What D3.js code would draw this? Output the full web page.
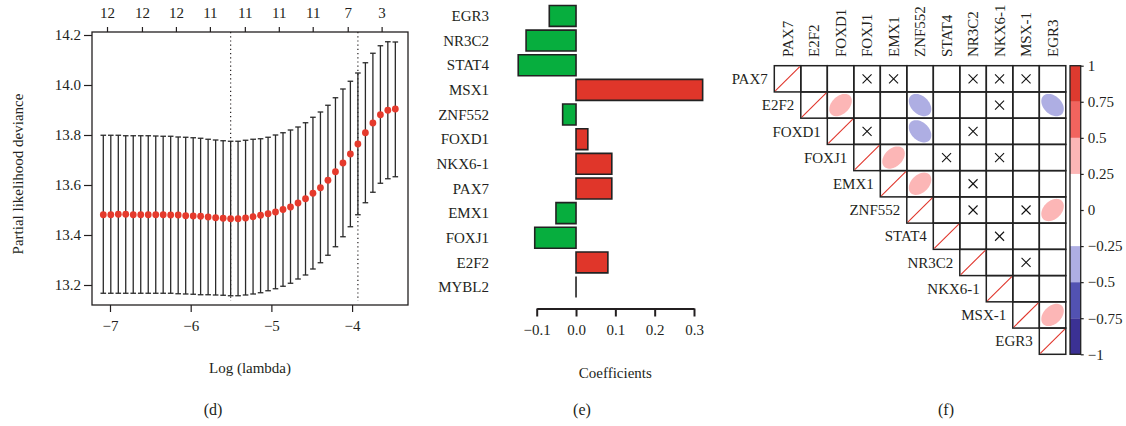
<!DOCTYPE html>
<html>
<head>
<meta charset="utf-8">
<script src="https://cdn.jsdelivr.net/npm/d3@7"></script>
<style>
  body { margin: 0; background: #fff; }
  svg { display: block; }
  text { font-family: "Liberation Serif", "Times New Roman", serif; fill: #231f20; font-size: 15px; }
</style>
</head>
<body>
<svg id="chart" width="1126" height="426"></svg>
<script>
// ---------- (d) cross-validated partial likelihood deviance ----------
const logLambda = [-7.083, -6.990, -6.897, -6.805, -6.712, -6.619, -6.526, -6.433, -6.341, -6.248,
                   -6.155, -6.062, -5.969, -5.877, -5.784, -5.691, -5.598, -5.505, -5.413, -5.320,
                   -5.227, -5.134, -5.041, -4.949, -4.856, -4.763, -4.670, -4.577, -4.485, -4.392,
                   -4.299, -4.206, -4.113, -4.021, -3.928, -3.835, -3.742, -3.649, -3.557, -3.464];
const cvMean = [13.481, 13.481, 13.483, 13.483, 13.481, 13.481, 13.481, 13.481, 13.481, 13.480,
                13.480, 13.477, 13.476, 13.475, 13.472, 13.469, 13.467, 13.465, 13.465, 13.468,
                13.473, 13.479, 13.485, 13.492, 13.502, 13.512, 13.528, 13.545, 13.567, 13.589,
                13.619, 13.653, 13.688, 13.724, 13.764, 13.809, 13.848, 13.881, 13.899, 13.904];
const cvUpper = [13.799, 13.799, 13.799, 13.797, 13.797, 13.797, 13.797, 13.796, 13.795, 13.795,
                 13.792, 13.791, 13.789, 13.787, 13.783, 13.780, 13.777, 13.775, 13.775, 13.779,
                 13.783, 13.785, 13.791, 13.800, 13.809, 13.820, 13.832, 13.849, 13.871, 13.892,
                 13.919, 13.949, 13.984, 14.015, 14.048, 14.089, 14.127, 14.157, 14.173, 14.172];
const cvLower = [13.167, 13.167, 13.167, 13.167, 13.167, 13.167, 13.167, 13.167, 13.167, 13.167,
                 13.165, 13.164, 13.163, 13.161, 13.161, 13.160, 13.159, 13.157, 13.157, 13.160,
                 13.164, 13.169, 13.177, 13.185, 13.195, 13.207, 13.224, 13.240, 13.264, 13.289,
                 13.319, 13.353, 13.393, 13.433, 13.481, 13.529, 13.571, 13.607, 13.625, 13.633];
const lambdaMinIndex = 17;
const lambda1seIndex = 34;
const devianceTicks = [13.2, 13.4, 13.6, 13.8, 14.0, 14.2];
const logLambdaTicks = [-7, -6, -5, -4];
const nonzeroTickPos = [-7.037, -6.604, -6.183, -5.762, -5.329, -4.908, -4.488, -4.054, -3.634];
const nonzeroTickLabels = ["12", "12", "12", "11", "11", "11", "11", "7", "3"];

// ---------- (e) LASSO coefficients ----------
const coefGenes = ["EGR3", "NR3C2", "STAT4", "MSX1", "ZNF552", "FOXD1", "NKX6-1", "PAX7", "EMX1", "FOXJ1", "E2F2", "MYBL2"];
const coefValues = [-0.068, -0.127, -0.147, 0.322, -0.034, 0.030, 0.091, 0.091, -0.051, -0.105, 0.081, 0.0];
const coefTicks = [-0.1, 0.0, 0.1, 0.2, 0.3];

// ---------- (f) correlation matrix (upper triangle) ----------
const corrGenes = ["PAX7", "E2F2", "FOXD1", "FOXJ1", "EMX1", "ZNF552", "STAT4", "NR3C2", "NKX6-1", "MSX-1", "EGR3"];
const corrEllipses = [
  ["E2F2", "FOXD1", 0.38], ["E2F2", "ZNF552", -0.37], ["E2F2", "EGR3", -0.35],
  ["FOXD1", "ZNF552", -0.36], ["FOXJ1", "EMX1", 0.36], ["EMX1", "ZNF552", 0.37],
  ["ZNF552", "EGR3", 0.35], ["MSX-1", "EGR3", 0.37]
];
const corrInsignificant = [
  ["PAX7", "FOXJ1"], ["PAX7", "EMX1"], ["PAX7", "NR3C2"], ["PAX7", "NKX6-1"], ["PAX7", "MSX-1"],
  ["E2F2", "NKX6-1"], ["FOXD1", "FOXJ1"], ["FOXD1", "NR3C2"],
  ["FOXJ1", "STAT4"], ["FOXJ1", "NKX6-1"], ["EMX1", "NR3C2"],
  ["ZNF552", "NR3C2"], ["ZNF552", "MSX-1"], ["STAT4", "NKX6-1"], ["NR3C2", "MSX-1"]
];
const colorbarTicks = [1, 0.75, 0.5, 0.25, 0, -0.25, -0.5, -0.75, -1];
const colorbarColors = ["#3b3194", "#5252b2", "#aeaee3", "#ffffff", "#ffffff", "#fcb6b6", "#f2645e", "#de3a2f"];

const panelLabels = ["(d)", "(e)", "(f)"];

const svg = d3.select("#chart");
const ink = "#231f20";
const red = "#e53a2c";

// ================= Panel (d) =================
(function () {
  const L = 92, R = 408, T = 32, B = 305;
  const x = d3.scaleLinear().domain([-7.223, -3.307]).range([L, R]);
  const y = d3.scaleLinear().domain([13.12, 14.212]).range([B, T]);
  const g = svg.append("g");

  // dotted reference lines at lambda.min and lambda.1se
  [lambdaMinIndex, lambda1seIndex].forEach(i => {
    g.append("line")
      .attr("x1", x(logLambda[i])).attr("x2", x(logLambda[i]))
      .attr("y1", T).attr("y2", B - 4)
      .attr("stroke", ink).attr("stroke-width", 1.2)
      .attr("stroke-dasharray", "1.2,3");
  });

  // error bars
  const bars = g.append("g").attr("stroke", "#2a2a2a").attr("stroke-width", 1.3);
  logLambda.forEach((l, i) => {
    const cx = x(l);
    bars.append("line").attr("x1", cx).attr("x2", cx).attr("y1", y(cvLower[i])).attr("y2", y(cvUpper[i]));
    bars.append("line").attr("x1", cx - 2.8).attr("x2", cx + 2.8).attr("y1", y(cvUpper[i])).attr("y2", y(cvUpper[i]));
    bars.append("line").attr("x1", cx - 2.8).attr("x2", cx + 2.8).attr("y1", y(cvLower[i])).attr("y2", y(cvLower[i]));
  });

  // mean deviance points
  g.append("g").selectAll("circle").data(logLambda).join("circle")
    .attr("cx", d => x(d)).attr("cy", (d, i) => y(cvMean[i]))
    .attr("r", 3.4).attr("fill", red);

  // frame
  g.append("rect").attr("x", L).attr("y", T).attr("width", R - L).attr("height", B - T)
    .attr("fill", "none").attr("stroke", ink).attr("stroke-width", 1.3);

  const styleAxis = sel => {
    sel.select(".domain").remove();
    sel.selectAll(".tick line").attr("stroke", ink).attr("stroke-width", 1.2);
    sel.selectAll("text").attr("font-size", 15).attr("fill", ink).attr("font-family", null);
  };

  g.append("g").attr("transform", `translate(${L},0)`)
    .call(d3.axisLeft(y).tickValues(devianceTicks).tickFormat(d3.format(".1f")).tickSize(8).tickPadding(3))
    .call(styleAxis);

  g.append("g").attr("transform", `translate(0,${B})`)
    .call(d3.axisBottom(x).tickValues(logLambdaTicks).tickFormat(d3.format("d")).tickSize(7).tickPadding(8))
    .call(styleAxis);

  g.append("g").attr("transform", `translate(0,${T})`)
    .call(d3.axisTop(x).tickValues(nonzeroTickPos).tickFormat((d, i) => nonzeroTickLabels[i]).tickSize(5).tickPadding(9))
    .call(styleAxis);

  g.append("text").attr("x", (L + R) / 2).attr("y", 373).attr("text-anchor", "middle").text("Log (lambda)");
  g.append("text").attr("transform", "translate(18,174) rotate(-90)")
    .attr("text-anchor", "middle").attr("dy", "0.35em").text("Partial likelihood deviance");
})();

// ================= Panel (e) =================
(function () {
  const x = d3.scaleLinear().domain([-0.1, 0.3]).range([536.7, 694]);
  const y = d3.scaleBand().domain(coefGenes).range([3.6, 299.4]).paddingInner(0.15).paddingOuter(0.075);
  const g = svg.append("g");

  g.append("g").selectAll("path").data(coefGenes).join("path")
    .attr("d", (gene, i) => {
      const x0 = x(Math.min(0, coefValues[i])), x1 = x(Math.max(0, coefValues[i]));
      const y0 = y(gene), y1 = y(gene) + y.bandwidth();
      return `M${x0},${y0}H${x1}V${y1}H${x0}Z`;
    })
    .attr("fill", (gene, i) => coefValues[i] < 0 ? "#07ae3e" : "#e0362a")
    .attr("stroke", "#222").attr("stroke-width", 1.6);

  g.append("g").selectAll("text").data(coefGenes).join("text")
    .attr("x", 489).attr("y", d => y(d) + y.bandwidth() / 2).attr("dy", "0.35em")
    .attr("text-anchor", "end").text(d => d);

  const ax = g.append("g").attr("transform", "translate(0,308.5)")
    .call(d3.axisBottom(x).tickValues(coefTicks).tickFormat(d3.format(".1f")).tickSize(8).tickSizeOuter(0).tickPadding(8));
  ax.select(".domain").attr("stroke", ink).attr("stroke-width", 2);
  ax.selectAll(".tick line").attr("stroke", ink).attr("stroke-width", 2);
  ax.selectAll("text").attr("font-size", 15).attr("fill", ink).attr("font-family", null);

  g.append("text").attr("x", (x(-0.1) + x(0.3)) / 2).attr("y", 378).attr("text-anchor", "middle").text("Coefficients");
})();

// ================= Panel (f) =================
(function () {
  const xs = d3.scaleBand().domain(corrGenes).range([774.3, 1065.8]);
  const ys = d3.scaleBand().domain(corrGenes).range([65.7, 354.3]);
  const color = d3.scaleQuantize().domain([-1, 1]).range(colorbarColors);
  const g = svg.append("g");
  const bw = xs.bandwidth(), bh = ys.bandwidth();

  const cells = [];
  corrGenes.forEach((r, ri) => corrGenes.forEach((c, ci) => { if (ci >= ri) cells.push([r, c]); }));

  // ellipses (drawn under grid lines)
  const ellipse = rho => {
    const a = Math.acos(rho) / 2;
    const pts = d3.range(0, 72).map(j => {
      const k = j / 72 * 2 * Math.PI;
      return [0.85 * bw * Math.cos(k + a) / 2, -0.85 * bh * Math.cos(k - a) / 2];
    });
    return d3.line().curve(d3.curveLinearClosed)(pts);
  };
  g.append("g").selectAll("path").data(corrEllipses).join("path")
    .attr("transform", d => `translate(${xs(d[1]) + bw / 2},${ys(d[0]) + bh / 2})`)
    .attr("d", d => ellipse(d[2]))
    .attr("fill", d => color(d[2]));

  // grid of upper-triangle cells
  g.append("g").selectAll("rect").data(cells).join("rect")
    .attr("x", d => xs(d[1])).attr("y", d => ys(d[0]))
    .attr("width", bw).attr("height", bh)
    .attr("fill", "none").attr("stroke", "#222").attr("stroke-width", 1.5);

  // diagonal self-correlation marks
  g.append("g").selectAll("line").data(corrGenes).join("line")
    .attr("x1", d => xs(d) + 1).attr("y1", d => ys(d) + bh - 1)
    .attr("x2", d => xs(d) + bw - 1).attr("y2", d => ys(d) + 1)
    .attr("stroke", "#e0352b").attr("stroke-width", 1.1);

  // non-significant crosses
  const cross = g.append("g").attr("stroke", "#111").attr("stroke-width", 1.1);
  corrInsignificant.forEach(([r, c]) => {
    const cx = xs(c) + bw / 2, cy = ys(r) + bh / 2, s = 4.5;
    cross.append("line").attr("x1", cx - s).attr("y1", cy - s).attr("x2", cx + s).attr("y2", cy + s);
    cross.append("line").attr("x1", cx - s).attr("y1", cy + s).attr("x2", cx + s).attr("y2", cy - s);
  });

  // row labels
  g.append("g").selectAll("text").data(corrGenes).join("text")
    .attr("x", d => xs(d) - 6.5).attr("y", d => ys(d) + bh / 2).attr("dy", "0.35em")
    .attr("text-anchor", "end").text(d => d);

  // column labels
  g.append("g").selectAll("text").data(corrGenes).join("text")
    .attr("transform", d => `translate(${xs(d) + bw / 2},57) rotate(-90)`)
    .attr("dy", "0.35em").attr("text-anchor", "start").text(d => d);

  // colour bar
  const cb = d3.scaleLinear().domain([-1, 1]).range([354.3, 65.7]);
  const cbx = 1070, cbw = 10.7;
  const binEdges = colorbarTicks.slice().reverse();
  g.append("g").selectAll("rect").data(colorbarColors).join("rect")
    .attr("x", cbx).attr("width", cbw)
    .attr("y", (d, i) => cb(binEdges[i + 1])).attr("height", (d, i) => cb(binEdges[i]) - cb(binEdges[i + 1]))
    .attr("fill", d => d);
  g.append("rect").attr("x", cbx).attr("y", cb(1)).attr("width", cbw).attr("height", cb(-1) - cb(1))
    .attr("fill", "none").attr("stroke", "#222").attr("stroke-width", 1.3);
  const cax = g.append("g").attr("transform", `translate(${cbx + cbw},0)`)
    .call(d3.axisRight(cb).tickValues(colorbarTicks)
      .tickFormat(t => (t < 0 ? "\u2212" : "") + Math.abs(t)).tickSize(3).tickPadding(4));
  cax.select(".domain").remove();
  cax.selectAll(".tick line").attr("stroke", "#222").attr("stroke-width", 1.2);
  cax.selectAll("text").attr("font-size", 15).attr("fill", ink).attr("font-family", null);
})();

// ================= panel captions =================
svg.append("g").selectAll("text").data(panelLabels).join("text")
  .attr("x", (d, i) => [213, 582, 946][i]).attr("y", 415)
  .attr("text-anchor", "middle").attr("font-size", 16).style("font-size", "16px").text(d => d);
</script>
</body>
</html>
